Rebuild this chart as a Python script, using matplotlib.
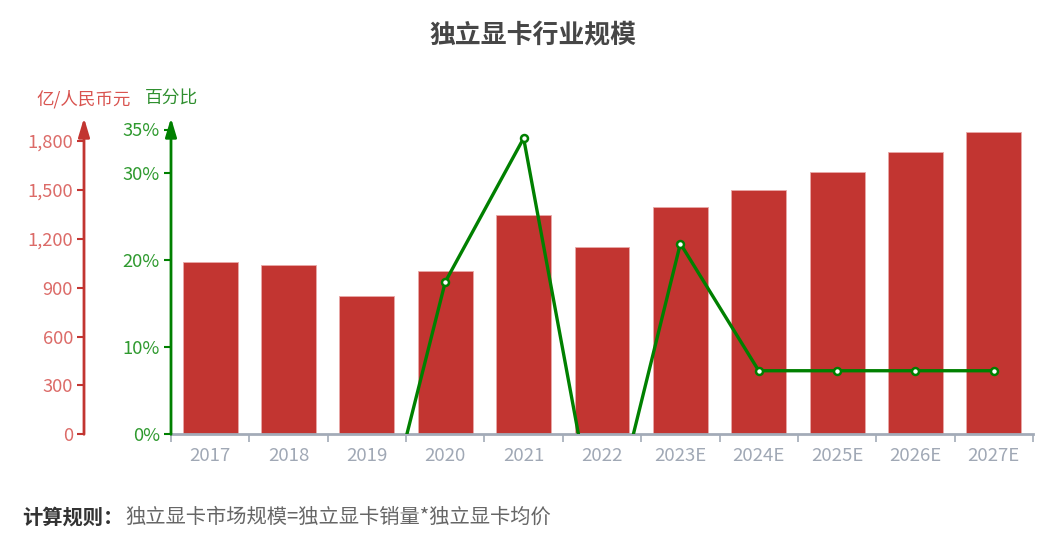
import numpy as np
import matplotlib
matplotlib.use("Agg")
import matplotlib.pyplot as plt
from matplotlib.transforms import ScaledTranslation
from matplotlib.ticker import FuncFormatter, FixedLocator

plt.rcParams['font.family'] = ['Noto Sans CJK SC', 'DejaVu Sans']

# ========================
# DATA
# ========================
years = ["2017", "2018", "2019", "2020", "2021", "2022",
         "2023E", "2024E", "2025E", "2026E", "2027E"]
market_size = [1059, 1041, 851, 1002, 1344, 1148, 1397, 1501, 1612, 1733, 1857]   # 亿/人民币元
growth = [np.nan, -1.7, -18.2, 17.5, 34.0, -14.6, 21.9, 7.3, 7.3, 7.3, 7.3]        # %

RED = "#c23531"
GREEN = "#008000"

# ========================
# FIGURE
# ========================
W, H = 1063, 537
fig = plt.figure(figsize=(W / 100, H / 100), dpi=100)
ax = fig.add_axes([171 / W, 1 - 434.3 / H, 862 / W, 304.8 / H])
ax2 = ax.twinx()

x = np.arange(len(years))
ax.bar(x, market_size, width=0.70, color=RED, edgecolor="#e9a9a8", linewidth=0.6, zorder=2)
ax.set_xlim(-0.5, len(years) - 0.5)
ax.set_ylim(0, 1871)

ax2.plot(x, growth, color=GREEN, lw=2.4, marker="o", markersize=5,
         markerfacecolor="white", markeredgecolor=GREEN, markeredgewidth=1.8, zorder=3)
ax2.set_ylim(0, 35)

# spines
for s in ["top", "right", "left"]:
    ax.spines[s].set_visible(False)
    ax2.spines[s].set_visible(False)
ax2.spines["bottom"].set_visible(False)
ax.spines["bottom"].set_color("#a3abb8")
ax.spines["bottom"].set_linewidth(2)

# x axis: ticks on category boundaries, labels in the middle
ax.xaxis.set_major_locator(FixedLocator(np.arange(-0.5, len(years), 1.0)))
ax.xaxis.set_minor_locator(FixedLocator(x))
ax.set_xticklabels([], minor=False)
ax.set_xticklabels(years, minor=True)
ax.tick_params(axis="x", which="major", length=6, width=1.2, color="#a3abb8")
ax.tick_params(axis="x", which="minor", length=0, pad=9, labelsize=13.4, labelcolor="#a0a8b5")

# left red axis (market size), offset 87 px
ax.yaxis.set_major_locator(FixedLocator(np.arange(0, 1801, 300)))
ax.yaxis.set_major_formatter(FuncFormatter(lambda v, p: f"{int(v):,}"))
ax.spines["left"].set_position(("outward", 87 * 0.72))
ax.tick_params(axis="y", length=5, width=1.5, color=RED, labelcolor="#dc6b68",
               labelsize=13.2, pad=3)

# green axis (growth)
ax2.yaxis.set_ticks_position("left")
ax2.yaxis.set_major_locator(FixedLocator([0, 10, 20, 30, 35]))
ax2.yaxis.set_major_formatter(FuncFormatter(lambda v, p: f"{int(v)}%"))
ax2.tick_params(axis="y", length=5, width=1.5, color=GREEN, labelcolor="#2f9a2f",
                labelsize=13.2, pad=3)

# axis lines with arrows
def axis_arrow(axes, dx_px, color):
    tr = axes.transAxes + ScaledTranslation(dx_px / 100, 0, fig.dpi_scale_trans)
    axes.annotate("", xy=(0, 1.038), xycoords=tr, xytext=(0, 0), textcoords=tr,
                  annotation_clip=False,
                  arrowprops=dict(arrowstyle="-|>,head_length=0.8,head_width=0.24",
                                  mutation_scale=14, color=color, lw=2,
                                  shrinkA=0, shrinkB=0))

axis_arrow(ax, -87, RED)
axis_arrow(ax2, 0, GREEN)

# axis names
fig.text(84 / W, 1 - 99 / H, "亿/人民币元", color="#d9534f", fontsize=12.6,
         ha="center", va="center")
fig.text(171.5 / W, 1 - 99 / H, "百分比", color="#2f8f2f", fontsize=12.8,
         ha="center", va="center")

# title and footer
fig.text(533 / W, 1 - 35 / H, "独立显卡行业规模", fontsize=18.6, fontweight="bold",
         color="#464646", ha="center", va="center")
fig.text(22 / W, 1 - 517 / H, "计算规则：", fontsize=14.6, fontweight="bold",
         color="#333333", ha="left", va="center")
fig.text(125 / W, 1 - 517 / H, "独立显卡市场规模=独立显卡销量*独立显卡均价", fontsize=14.6,
         color="#666666", ha="left", va="center")

fig.savefig("out.png", dpi=100)
